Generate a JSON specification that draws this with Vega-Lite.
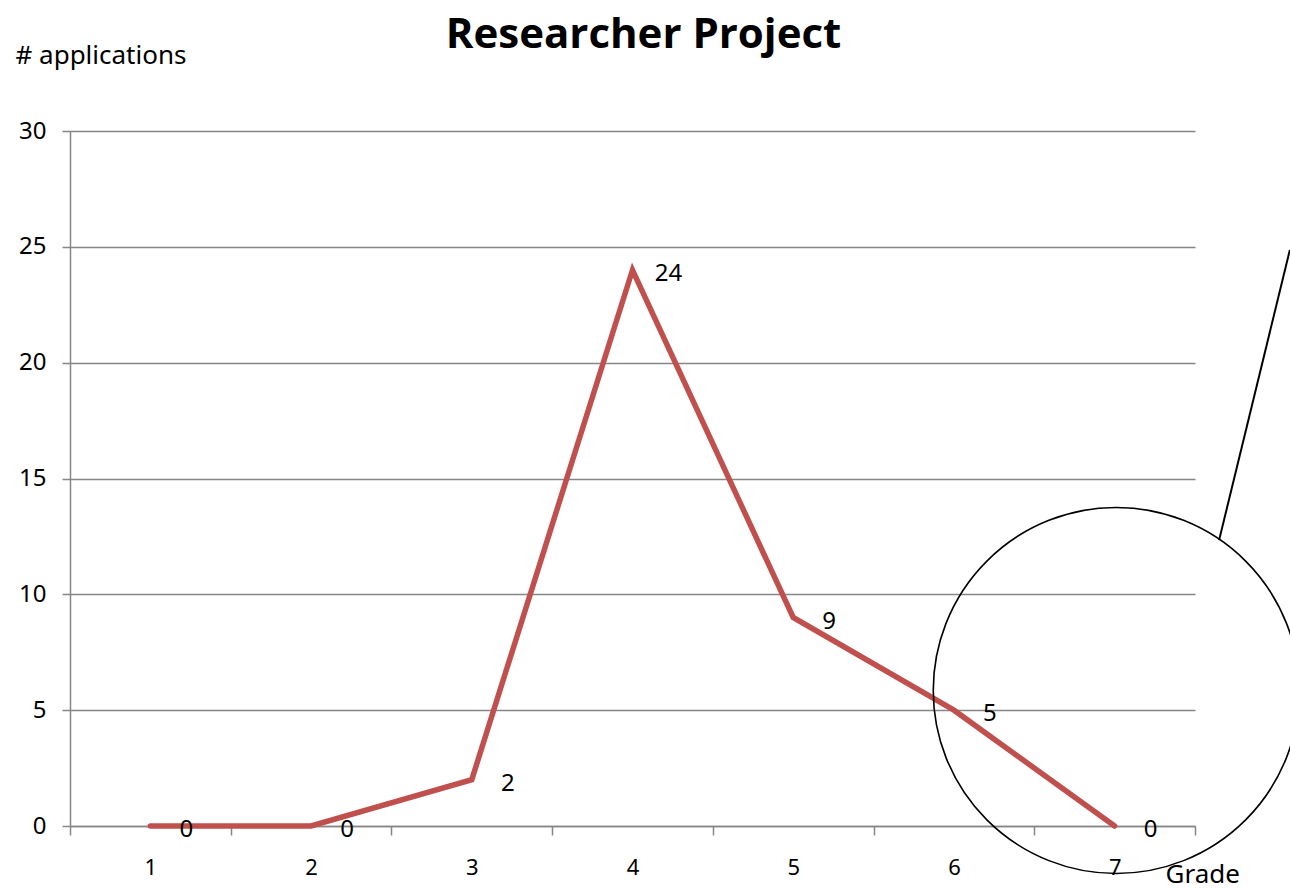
{
  "$schema": "https://vega.github.io/schema/vega-lite/v6.json",
  "autosize": {"type": "none"},
  "width": 1125,
  "height": 695,
  "padding": {"left": 70, "top": 131, "right": 95, "bottom": 64},
  "background": "white",
  "config": {
    "view": {"stroke": null},
    "font": "Noto Sans",
    "axis": {"labelFont": "Noto Sans", "titleFont": "Noto Sans"}
  },
  "title": {
    "text": "Researcher Project",
    "font": "Open Sans",
    "fontSize": 42,
    "fontWeight": "bold",
    "color": "#000000",
    "anchor": "middle",
    "baseline": "alphabetic",
    "offset": -48,
    "dx": 11
  },
  "datasets": {
    "series": [
      {"grade": 1, "applications": 0},
      {"grade": 2, "applications": 0},
      {"grade": 3, "applications": 2},
      {"grade": 4, "applications": 24},
      {"grade": 5, "applications": 9},
      {"grade": 6, "applications": 5},
      {"grade": 7, "applications": 0}
    ],
    "circle": [{"grade": 7.01, "applications": 5.85}],
    "pointer": [{"grade": 7.65, "applications": 12.34, "grade2": 8.09, "applications2": 24.86}]
  },
  "layer": [
    {
      "data": {"name": "series"},
      "mark": {"type": "line", "color": "#C0504D", "strokeWidth": 5.5, "strokeCap": "round", "strokeJoin": "miter"},
      "encoding": {
        "x": {
          "field": "grade", "type": "quantitative",
          "scale": {"domain": [0.5, 7.5], "nice": false, "zero": false},
          "axis": {
            "values": [0.5, 1.5, 2.5, 3.5, 4.5, 5.5, 6.5, 7.5],
            "labelExpr": "datum.value < 7 ? format(datum.value + 0.5, 'd') : ''",
            "labelOffset": 80.4,
            "labelFontSize": 22,
            "labelColor": "#000000",
            "labelPadding": 22,
            "labelFlush": false,
            "labelOverlap": false,
            "grid": false,
            "domainColor": "#868686",
            "domainWidth": 1.5,
            "tickColor": "#868686",
            "tickWidth": 1.5,
            "tickSize": 9,
            "title": "Grade",
            "titleFontSize": 26,
            "titleFontWeight": "normal",
            "titleColor": "#000000",
            "titleAlign": "left",
            "titleBaseline": "middle",
            "titleX": 1095,
            "titleY": 48
          }
        },
        "y": {
          "field": "applications", "type": "quantitative",
          "scale": {"domain": [0, 30], "nice": false},
          "axis": {
            "values": [0, 5, 10, 15, 20, 25, 30],
            "grid": true,
            "gridColor": "#868686",
            "gridWidth": 1.5,
            "domainColor": "#868686",
            "domainWidth": 1.5,
            "tickColor": "#868686",
            "tickWidth": 1.5,
            "tickSize": 8,
            "labelFontSize": 24,
            "labelColor": "#000000",
            "labelPadding": 16,
            "title": "# applications",
            "titleAngle": 0,
            "titleFontSize": 26,
            "titleFontWeight": "normal",
            "titleColor": "#000000",
            "titleAlign": "left",
            "titleBaseline": "middle",
            "titleX": -55,
            "titleY": -76
          }
        }
      }
    },
    {
      "data": {"name": "series"},
      "mark": {"type": "text", "fontSize": 24, "color": "#000000", "align": "center", "baseline": "middle", "dx": 36, "dy": 4},
      "encoding": {
        "x": {"field": "grade", "type": "quantitative"},
        "y": {"field": "applications", "type": "quantitative"},
        "text": {"field": "applications", "type": "quantitative"}
      }
    },
    {
      "data": {"name": "circle"},
      "mark": {"type": "point", "shape": "circle", "filled": false, "size": 133956, "stroke": "#000000", "strokeWidth": 1.6, "opacity": 1, "clip": false},
      "encoding": {
        "x": {"field": "grade", "type": "quantitative"},
        "y": {"field": "applications", "type": "quantitative"}
      }
    },
    {
      "data": {"name": "pointer"},
      "mark": {"type": "rule", "color": "#000000", "strokeWidth": 2, "clip": false},
      "encoding": {
        "x": {"field": "grade", "type": "quantitative"},
        "y": {"field": "applications", "type": "quantitative"},
        "x2": {"field": "grade2"},
        "y2": {"field": "applications2"}
      }
    }
  ]
}
